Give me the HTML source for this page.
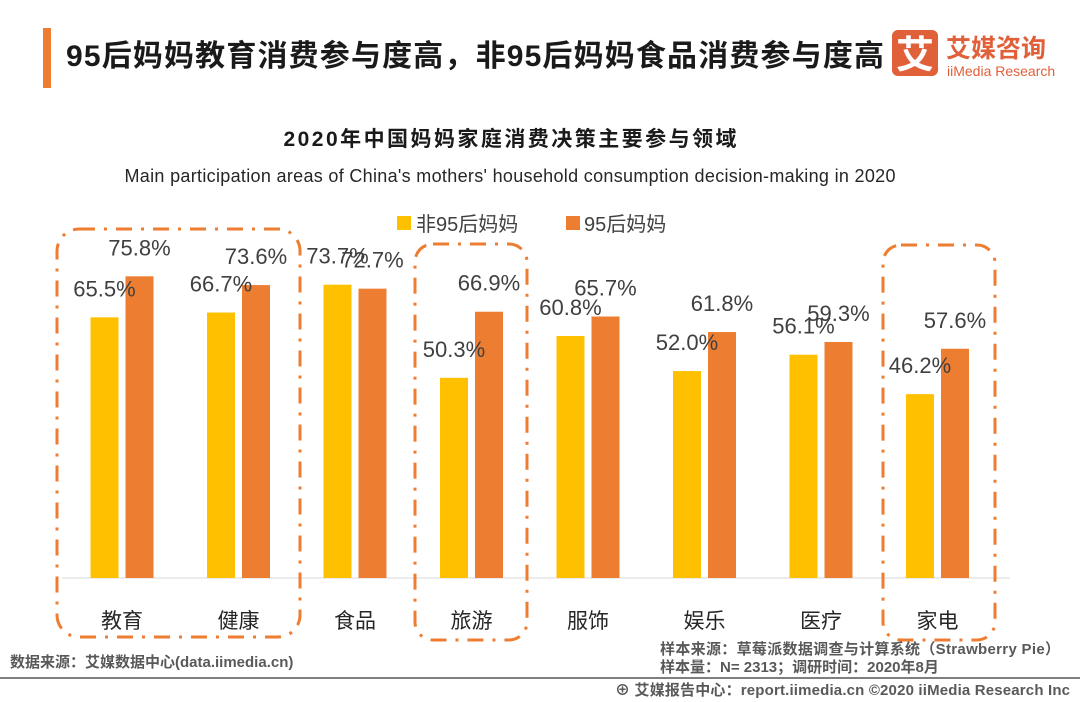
<!DOCTYPE html>
<html><head><meta charset="utf-8">
<style>
body{margin:0;width:1080px;height:702px;background:#fff;overflow:hidden;font-family:"Liberation Sans","Noto Sans CJK SC",sans-serif;}
svg{display:block}
</style></head><body>
<svg id="c" width="1080" height="702" xmlns="http://www.w3.org/2000/svg">
<rect x="43" y="28" width="8" height="60" fill="#ed7d31"/>
<text x="66" y="66" font-size="30" font-weight="bold" fill="#1a1a1a" textLength="818" font-family="Liberation Sans,Noto Sans CJK SC,sans-serif">95后妈妈教育消费参与度高，非95后妈妈食品消费参与度高</text>
<g>
<rect x="892" y="30" width="46" height="46" rx="6" fill="#e0603a"/>
<text x="915" y="68" font-size="38" font-weight="bold" fill="#fff" text-anchor="middle" font-family="Noto Sans CJK SC,sans-serif">艾</text>
<text x="946" y="57" font-size="25" font-weight="bold" fill="#e0603a" font-family="Noto Sans CJK SC,sans-serif">艾媒咨询</text>
<text x="947" y="76" font-size="14" fill="#e0603a" font-family="Liberation Sans,sans-serif">iiMedia Research</text>
</g>
<text x="510" y="146" font-size="21" font-weight="bold" fill="#1a1a1a" text-anchor="middle" textLength="453" font-family="Liberation Sans,Noto Sans CJK SC,sans-serif">2020年中国妈妈家庭消费决策主要参与领域</text>
<text x="510" y="182" font-size="18" fill="#262626" text-anchor="middle" textLength="771">Main participation areas of China's mothers' household consumption decision-making in 2020</text>
<g>
<rect x="397" y="216" width="14" height="14" fill="#ffc000"/>
<text x="416" y="231" font-size="20" fill="#404040" font-family="Liberation Sans,Noto Sans CJK SC,sans-serif">非95后妈妈</text>
<rect x="566" y="216" width="14" height="14" fill="#ed7d31"/>
<text x="584" y="231" font-size="20" fill="#404040" font-family="Liberation Sans,Noto Sans CJK SC,sans-serif">95后妈妈</text>
</g>
<line x1="62" y1="578" x2="1010" y2="578" stroke="#d9d9d9" stroke-width="1"/>
<g id="bars"></g>
<g fill="none" stroke="#ed7d31" stroke-width="3" stroke-dasharray="16 9 3 9">
<rect x="57" y="229" width="243" height="408" rx="22"/>
<rect x="415" y="244" width="112" height="396" rx="18"/>
<rect x="883" y="245" width="112" height="395" rx="18"/>
</g>
<text x="10" y="667" font-size="15" font-weight="bold" fill="#595959" font-family="Liberation Sans,Noto Sans CJK SC,sans-serif">数据来源：艾媒数据中心(data.iimedia.cn)</text>
<text x="660" y="654" font-size="15" font-weight="bold" fill="#595959" textLength="400" font-family="Liberation Sans,Noto Sans CJK SC,sans-serif">样本来源：草莓派数据调查与计算系统（Strawberry Pie）</text>
<text x="660" y="672" font-size="15" font-weight="bold" fill="#595959" font-family="Liberation Sans,Noto Sans CJK SC,sans-serif">样本量：N= 2313；调研时间：2020年8月</text>
<line x1="0" y1="678" x2="1080" y2="678" stroke="#7f7f7f" stroke-width="2"/>
<text x="1070" y="695" font-size="15" font-weight="bold" fill="#595959" text-anchor="end" textLength="455" font-family="Liberation Sans,Noto Sans CJK SC,sans-serif">⊕ 艾媒报告中心：report.iimedia.cn  ©2020  iiMedia Research  Inc</text>
</svg>
<script>
const categories=["教育","健康","食品","旅游","服饰","娱乐","医疗","家电"];
const non95=[65.5,66.7,73.7,50.3,60.8,52.0,56.1,46.2];
const post95=[75.8,73.6,72.7,66.9,65.7,61.8,59.3,57.6];
const NS="http://www.w3.org/2000/svg";
const g=document.getElementById('bars');
const base=578,k=3.98,x0=122,step=116.5,bw=28;
const y=v=>base-v*k;
const xc=i=>x0+i*step;
function mk(t,a){const e=document.createElementNS(NS,t);for(const n in a)e.setAttribute(n,a[n]);g.appendChild(e);return e;}
categories.forEach((c,i)=>{
  const cx=xc(i);
  const b1=mk('rect',{x:cx-3.5-bw,y:y(non95[i]),width:bw,height:non95[i]*k,fill:'#ffc000'});
  
  
  const b2=mk('rect',{x:cx+3.5,y:y(post95[i]),width:bw,height:post95[i]*k,fill:'#ed7d31'});
  
  
  const l1=mk('text',{x:cx-3.5-bw/2,y:y(non95[i])-21,'font-size':22,fill:'#404040','text-anchor':'middle'});
  l1.textContent=non95[i].toFixed(1)+'%';
  
  
  const l2=mk('text',{x:cx+3.5+bw/2,y:y(post95[i])-21,'font-size':22,fill:'#404040','text-anchor':'middle'});
  l2.textContent=post95[i].toFixed(1)+'%';
  
  
  const cl=mk('text',{x:cx,y:628,'font-size':21,fill:'#262626','text-anchor':'middle','font-family':'Liberation Sans,Noto Sans CJK SC,sans-serif'});
  cl.textContent=c;
  
  
});
</script>
</body></html>
